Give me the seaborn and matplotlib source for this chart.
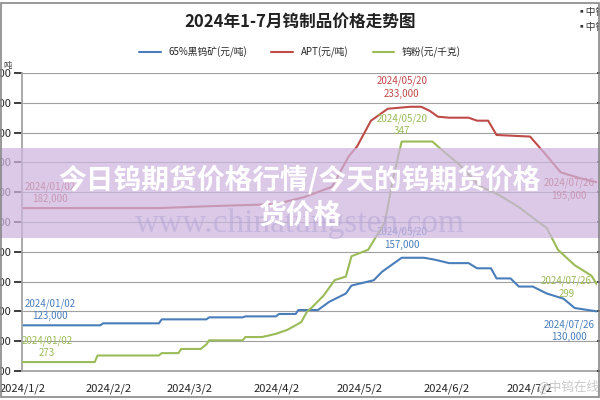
import pandas as pd
import numpy as np
import matplotlib
matplotlib.use("Agg")
import matplotlib.pyplot as plt
import matplotlib.dates as mdates
from matplotlib.patches import Rectangle
import seaborn as sns

sns.set_theme(style="white")
plt.rcParams['font.family'] = ['Noto Sans CJK SC', 'DejaVu Sans']

# 65%黑钨矿 (元/吨)
ore_dates = ["2024-01-02", "2024-01-30", "2024-01-31", "2024-02-20", "2024-02-21", "2024-03-08",
             "2024-03-09", "2024-03-21", "2024-03-22", "2024-04-02", "2024-04-03", "2024-04-09",
             "2024-04-10", "2024-04-17", "2024-04-21", "2024-04-27", "2024-04-29", "2024-05-07",
             "2024-05-10", "2024-05-17", "2024-05-25", "2024-05-29", "2024-06-03", "2024-06-10",
             "2024-06-13", "2024-06-18", "2024-06-20", "2024-06-25", "2024-06-28", "2024-07-03",
             "2024-07-08", "2024-07-14", "2024-07-18", "2024-07-26"]
ore_vals = [123000, 123000, 124000, 124000, 126000, 126000,
            127000, 127000, 127500, 127500, 128700, 128700,
            130700, 130700, 134800, 139000, 143000, 145700,
            150000, 157000, 157000, 156000, 154300, 154300,
            151700, 151700, 146600, 146600, 142500, 142500,
            139000, 136400, 131700, 130000]

# APT (元/吨)
apt_dates = ["2024-01-02", "2024-02-20", "2024-03-10", "2024-04-02", "2024-04-12", "2024-04-22",
             "2024-04-28", "2024-05-01", "2024-05-06", "2024-05-12", "2024-05-20", "2024-05-24",
             "2024-05-27", "2024-05-30", "2024-06-03", "2024-06-10", "2024-06-13", "2024-06-17",
             "2024-06-20", "2024-07-02", "2024-07-07", "2024-07-13", "2024-07-20", "2024-07-26"]
apt_vals = [182000, 182000, 183000, 184000, 187500, 192700,
            208000, 213000, 226000, 232000, 233000, 233000,
            231000, 228000, 227500, 227500, 226000, 226000,
            218800, 218000, 210000, 200000, 197000, 195000]

# 钨粉 (元/千克)
pow_dates = ["2024-01-02", "2024-01-28", "2024-01-29", "2024-02-20", "2024-02-21", "2024-02-27",
             "2024-02-28", "2024-03-06", "2024-03-08", "2024-03-09", "2024-03-21", "2024-03-22",
             "2024-03-28", "2024-04-02", "2024-04-06", "2024-04-11", "2024-04-13", "2024-04-15",
             "2024-04-19", "2024-04-23", "2024-04-27", "2024-04-29", "2024-05-05", "2024-05-11",
             "2024-05-14", "2024-05-17", "2024-05-28", "2024-05-31", "2024-06-07", "2024-06-14",
             "2024-06-21", "2024-06-28", "2024-07-05", "2024-07-08", "2024-07-12", "2024-07-18",
             "2024-07-24", "2024-07-26"]
pow_vals = [273, 273, 275.2, 275.2, 276, 276,
            277.4, 277.4, 278.9, 280.3, 280.3, 281.4,
            281.4, 282.5, 283.8, 286.4, 289.8, 291.5,
            295.3, 300.5, 301.7, 308.5, 310.7, 320,
            335, 347, 347, 344.5, 339, 332,
            329, 325, 320, 318, 310.7, 305.5,
            302, 299]

C_ORE, C_APT, C_POW = "#4a7ebb", "#be4b48", "#9bbb59"

ore = pd.DataFrame({"date": pd.to_datetime(ore_dates), "v": ore_vals})
apt = pd.DataFrame({"date": pd.to_datetime(apt_dates), "v": apt_vals})
pw = pd.DataFrame({"date": pd.to_datetime(pow_dates), "v": pow_vals})

fig = plt.figure(figsize=(6, 4), dpi=100)
ax = fig.add_axes([0.037, 0.0725, 0.958, 0.745])
ax2 = ax.twinx()

sns.lineplot(data=ore, x="date", y="v", ax=ax, color=C_ORE, lw=1.5, label="65%黑钨矿(元/吨)", legend=False)
sns.lineplot(data=apt, x="date", y="v", ax=ax, color=C_APT, lw=1.5, label="APT(元/吨)", legend=False)
sns.lineplot(data=pw, x="date", y="v", ax=ax2, color=C_POW, lw=1.5, label="钨粉(元/千克)", legend=False)

ax.set_ylim(100000, 250000)
ax.set_yticks(np.arange(100000, 250001, 15000))
ax2.set_ylim(270, 370)
ax2.set_yticks(np.arange(270, 371, 10))
ax.yaxis.grid(True, color="#a0a0a0", lw=0.8)
ax.set_xlim(pd.Timestamp("2024-01-02"), pd.Timestamp("2024-07-26"))
ax.set_xticks(pd.to_datetime(["2024-01-02", "2024-02-02", "2024-03-02", "2024-04-02",
                              "2024-05-02", "2024-06-02", "2024-07-02"]))
ax.xaxis.set_major_formatter(mdates.DateFormatter("%Y/%-m/%-d"))
ax.tick_params(axis="x", labelsize=8, length=3, color="#808080", pad=6)
ax.tick_params(axis="y", labelsize=8, pad=2)
ax2.tick_params(axis="y", labelsize=8)
for a in (ax, ax2):
    a.set_xlabel("")
    a.set_ylabel("")
    for s in a.spines.values():
        s.set_visible(False)
ax.spines["left"].set_visible(True)
ax.spines["left"].set_color("#a0a0a0")
ax.spines["bottom"].set_visible(True)
ax.spines["bottom"].set_color("#a0a0a0")

fig.text(0.5, 0.945, "2024年1-7月钨制品价格走势图", ha="center", va="center",
         fontsize=12, fontweight="bold", color="#222222")
fig.text(0.96, 0.962, "▪中钨", fontsize=7, color="#333333")
fig.text(0.96, 0.925, "▪中钨", fontsize=7, color="#333333")
fig.text(0.005, 0.83, "吨", fontsize=6, color="#333333")

h1, l1 = ax.get_legend_handles_labels()
h2, l2 = ax2.get_legend_handles_labels()
fig.legend(h1 + h2, l1 + l2, loc="center", bbox_to_anchor=(0.5, 0.87), ncol=3,
           frameon=False, fontsize=7, handlelength=2.2, columnspacing=2.5)

def note(axis, d, v, txt, color, dx, dy, size=7):
    axis.annotate(txt, (pd.Timestamp(d), v), xytext=(dx, dy), textcoords="offset points",
                  ha="center", va="center", color=color, fontsize=size, linespacing=1.3)

note(ax, "2024-05-20", 233000, "2024/05/20\n233,000", C_APT, -6, 14)
note(ax2, "2024-05-20", 347, "2024/05/20\n347", C_POW, -6, 12)
note(ax, "2024-05-20", 157000, "2024/05/20\n157,000", C_ORE, -6, 14)
note(ax, "2024-01-02", 182000, "2024/01/02\n182,000", C_APT, 20, 11)
note(ax, "2024-01-02", 123000, "2024/01/02\n123,000", C_ORE, 20, 11)
note(ax2, "2024-01-02", 273, "2024/01/02\n273", C_POW, 18, 11)
note(ax, "2024-07-26", 195000, "2024/07/26\n195,000", C_APT, -20, -5)
note(ax2, "2024-07-26", 299, "2024/07/26\n299", C_POW, -22, -2)
note(ax, "2024-07-26", 130000, "2024/07/26\n130,000", C_ORE, -20, -14)

# overlay banner
fig.patches.append(Rectangle((0, 1 - 238 / 400), 1, 90 / 400, transform=fig.transFigure,
                             facecolor="#cdb5df", alpha=0.72, edgecolor="none", zorder=5))
fig.text(0.5, 0.44, "www.chinatungsten.com", ha="center", va="center", fontsize=24,
         family="Liberation Serif", color="#b9a9d6", alpha=0.6, zorder=6)
fig.text(0.5, 0.552, "今日钨期货价格行情/今天的钨期货价格", ha="center", va="center",
         fontsize=20, fontweight="bold", color="white", zorder=7)
fig.text(0.5, 0.46, "货价格", ha="center", va="center",
         fontsize=20, fontweight="bold", color="white", zorder=7)
fig.text(0.895, 0.035, "@中钨在线", ha="left", va="center", fontsize=9, color="#c8c8c8", zorder=7)

fig.patches.append(Rectangle((0.002, 0.008), 0.996, 0.984, transform=fig.transFigure,
                             facecolor="none", edgecolor="#888888", lw=1.2, zorder=8))

fig.savefig("out.png", dpi=100)
